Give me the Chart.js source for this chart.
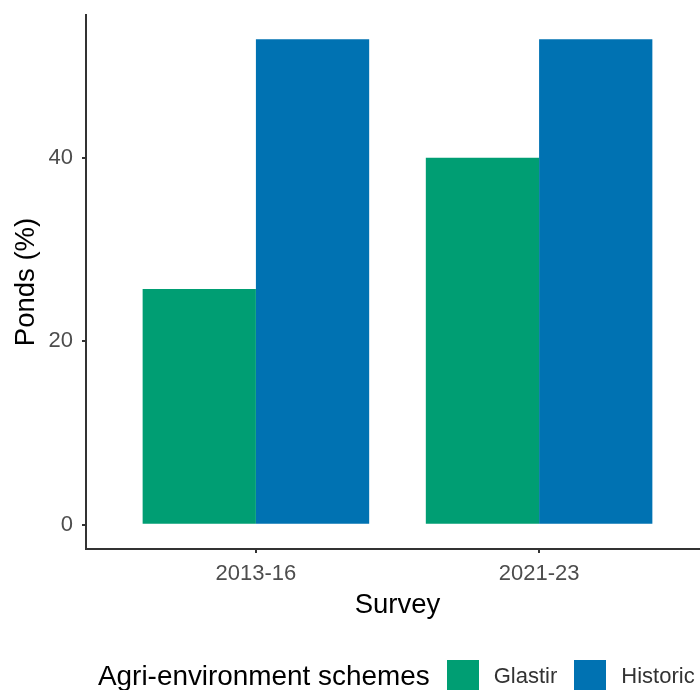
<!DOCTYPE html>
<html>
<head>
<meta charset="utf-8">
<script src="https://cdn.jsdelivr.net/npm/chart.js@4.4.0/dist/chart.umd.min.js"></script>
<style>
  html, body { margin: 0; padding: 0; background: #fff; }
  body { width: 700px; height: 690px; overflow: hidden; position: relative;
         font-family: "Liberation Sans", Arial, sans-serif; }
  #wrap { position: absolute; left: 0; top: 0; width: 712px; height: 690px; }
  #legend { position: absolute; left: 98px; top: 660px; height: 32px;
            display: flex; align-items: center; white-space: nowrap; }
  #legend .title { font-size: 27.9px; color: #000; line-height: 32px; margin-right: 17px; }
  #legend .box { width: 32px; height: 32px; margin-right: 15px; }
  #legend .lab { font-size: 22px; color: #333; line-height: 32px; margin-right: 17px; }
</style>
</head>
<body>
<div id="wrap"><canvas id="barchart" width="712" height="690"></canvas></div>
<div id="legend"></div>
<script>
// survey periods on the x axis
const surveys = ["2013-16", "2021-23"];
// agri-environment schemes (one bar per scheme in each survey)
const schemes = ["Glastir", "Historic"];
const glastir = [25.7, 40.0];
const historic = [52.9, 52.9];
const yTicks = [0, 20, 40];
const colours = ["#009E73", "#0072B2"];

const series = [glastir, historic];
const fontFam = "'Liberation Sans', Arial, sans-serif";

const ctx = document.getElementById("barchart");
const chart = new Chart(ctx, {
    type: "bar",
    data: {
        datasets: schemes.map((name, k) => ({
            label: name,
            data: surveys.map((s, i) => ({x: i, y: series[k][i]})),
            backgroundColor: colours[k],
            borderWidth: 0,
            categoryPercentage: 0.8,
            barPercentage: 1.0
        }))
    },
    options: {
        responsive: false,
        animation: false,
        layout: {padding: {left: 0, top: 15, right: 3, bottom: 68}},
        plugins: {legend: {display: false}, tooltip: {enabled: false}},
        scales: {
            x: {
                type: "linear",
                min: -0.6,
                max: 1.6,
                offset: false,
                afterBuildTicks: s => { s.ticks = surveys.map((_, i) => ({value: i})); },
                afterFit: s => { s.height = 73; s.paddingLeft = 0; s.paddingRight = 0; },
                grid: {drawOnChartArea: false, offset: false, tickLength: 4, color: "#333", lineWidth: 2},
                border: {color: "#333", width: 2},
                ticks: {
                    callback: v => surveys[v],
                    color: "#4D4D4D",
                    font: {family: fontFam, size: 22},
                    padding: 8,
                    maxRotation: 0
                },
                title: {display: true, text: "Survey", color: "#000",
                        font: {family: fontFam, size: 27.5}, padding: {top: 0, bottom: 0}}
            },
            y: {
                min: -2.65,
                max: 55.55,
                afterBuildTicks: s => { s.ticks = yTicks.map(v => ({value: v})); },
                // no extra room for the top tick label, the plot starts at the padding
                afterFit: s => { s.width = 86; s.paddingTop = 0; s.paddingBottom = 0; },
                grid: {drawOnChartArea: false, tickLength: 4, color: "#333", lineWidth: 2},
                border: {color: "#333", width: 2},
                ticks: {
                    color: "#4D4D4D",
                    font: {family: fontFam, size: 22},
                    padding: 9
                },
                title: {display: true, text: "Ponds (%)", color: "#000",
                        font: {family: fontFam, size: 27.5}, padding: {top: 10, bottom: 0}}
            }
        }
    }
});

// legend laid out in one row like ggplot's bottom legend
const legend = document.getElementById("legend");
let html = '<span class="title">Agri-environment schemes</span>';
chart.data.datasets.forEach(ds => {
    html += '<span class="box" style="background:' + ds.backgroundColor + '"></span>' +
            '<span class="lab">' + ds.label + '</span>';
});
legend.innerHTML = html;
</script>
</body>
</html>
